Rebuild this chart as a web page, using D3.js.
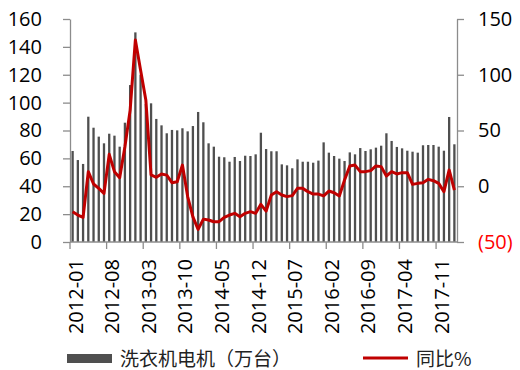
<!DOCTYPE html>
<meta charset="utf-8">
<script src="https://d3js.org/d3.v7.min.js"></script>
<style>
  body { margin: 0; background: #fff; }
  text { font-family: "Open Sans", "Liberation Sans", sans-serif; }
</style>
<div id="chart"></div>
<script>

// months on the x axis
var months = [
  "2012-01","2012-02","2012-03","2012-04","2012-05","2012-06","2012-07","2012-08","2012-09","2012-10","2012-11","2012-12",
  "2013-01","2013-02","2013-03","2013-04","2013-05","2013-06","2013-07","2013-08","2013-09","2013-10","2013-11","2013-12",
  "2014-01","2014-02","2014-03","2014-04","2014-05","2014-06","2014-07","2014-08","2014-09","2014-10","2014-11","2014-12",
  "2015-01","2015-02","2015-03","2015-04","2015-05","2015-06","2015-07","2015-08","2015-09","2015-10","2015-11","2015-12",
  "2016-01","2016-02","2016-03","2016-04","2016-05","2016-06","2016-07","2016-08","2016-09","2016-10","2016-11","2016-12",
  "2017-01","2017-02","2017-03","2017-04","2017-05","2017-06","2017-07","2017-08","2017-09","2017-10","2017-11","2017-12",
  "2018-01","2018-02"]

// 洗衣机电机 output (万台)
var output = [
  65.3, 58.8, 56.0, 89.9, 82.0, 75.6, 70.8, 77.7, 76.3, 68.4, 85.6, 112.6,
  150.4, 120.0, 99.0, 99.5, 88.3, 83.7, 78.0, 80.4, 80.1, 81.6, 79.4, 83.2,
  93.3, 85.9, 70.8, 68.4, 61.2, 60.8, 57.6, 61.0, 58.1, 61.9, 61.7, 62.9,
  78.4, 66.7, 65.1, 65.1, 55.7, 55.0, 52.9, 59.3, 57.6, 57.6, 56.9, 58.4,
  71.5, 64.1, 61.7, 59.8, 58.1, 64.3, 62.9, 67.4, 65.3, 66.5, 67.7, 69.1,
  78.0, 72.5, 68.2, 67.2, 65.5, 64.8, 64.1, 69.4, 69.6, 69.6, 68.4, 65.5,
  89.7, 70.1]

// 同比 % (year on year)
var yoy = [
  -22.8, -25.8, -27.9, 13.1, 2.0, -1.9, -6.4, 28.6, 13.1, 7.7, 35.5, 68.3,
  131.2, 104.0, 77.4, 10.1, 8.0, 11.0, 10.0, 3.2, 4.1, 19.0, -9.3, -27.4,
  -38.7, -29.5, -30.3, -31.8, -31.8, -27.9, -25.8, -24.3, -27.3, -24.3, -22.8, -24.3,
  -16.2, -22.3, -7.8, -4.9, -7.8, -9.3, -8.4, -1.9, -1.9, -4.9, -7.0, -7.0,
  -8.7, -4.3, -5.8, -8.7, 5.6, 18.2, 19.0, 13.1, 13.1, 14.0, 18.2, 17.6,
  9.2, 13.1, 11.0, 12.2, 12.2, 1.7, 2.6, 3.2, 6.2, 5.0, 2.6, -4.9,
  14.6, -3.4]

var xTickLabels = ["2012-01","2012-08","2013-03","2013-10","2014-05","2014-12",
                   "2015-07","2016-02","2016-09","2017-04","2017-11"]
var leftTicks = [0, 20, 40, 60, 80, 100, 120, 140, 160]
var rightTicks = [-50, 0, 50, 100, 150]

var barColor = "#4f4f4f",
    lineColor = "#c00000",
    axisColor = "#8c8c8c"

var width = 520, height = 370
var plotLeft = 70, plotRight = 457, plotTop = 19, plotBottom = 242

var svg = d3.select("#chart")
  .append("svg")
  .attr("width", width)
  .attr("height", height)

var x = d3.scaleBand()
  .domain(months)
  .range([plotLeft, plotRight])
  .paddingInner(0.56)
  .paddingOuter(0.28)

var step = x.step()

var yL = d3.scaleLinear().domain([0, 160]).range([plotBottom, plotTop])
var yR = d3.scaleLinear().domain([-50, 150]).range([plotBottom, plotTop])

// bars
svg.append("g")
  .selectAll("rect")
  .data(output)
  .enter()
  .append("rect")
    .attr("x", function(d, i){ return x(months[i]) })
    .attr("width", x.bandwidth())
    .attr("y", function(d){ return yL(d) })
    .attr("height", function(d){ return yL(0) - yL(d) })
    .style("fill", barColor)

// line
var line = d3.line()
  .x(function(d, i){ return x(months[i]) + x.bandwidth() / 2 })
  .y(function(d){ return yR(d) })

svg.append("path")
  .datum(yoy)
  .attr("d", line)
  .style("fill", "none")
  .style("stroke", lineColor)
  .style("stroke-width", 3)
  .style("stroke-linejoin", "round")

function styleAxis(g) {
  g.select(".domain").style("stroke", axisColor).style("stroke-width", 1.3)
  g.selectAll(".tick line").style("stroke", axisColor).style("stroke-width", 1.3)
  g.selectAll(".tick text").style("font-size", "20px").style("fill", "#000")
}

// left axis
var gL = svg.append("g")
  .attr("transform", "translate(" + plotLeft + ",0)")
  .call(d3.axisLeft(yL).tickValues(leftTicks).tickSize(7).tickPadding(21).tickSizeOuter(0))
styleAxis(gL)

// right axis
var gR = svg.append("g")
  .attr("transform", "translate(" + plotRight + ",0)")
  .call(d3.axisRight(yR).tickValues(rightTicks).tickSize(7).tickPadding(14).tickSizeOuter(0)
    .tickFormat(function(d){ return d < 0 ? "(" + (-d) + ")" : d }))
styleAxis(gR)
gR.selectAll(".tick text")
  .style("fill", function(d){ return d < 0 ? "#ff0000" : "#000" })

// bottom axis, ticks on category boundaries
var gX = svg.append("g")
  .attr("transform", "translate(0," + plotBottom + ")")
  .call(d3.axisBottom(x).tickValues(xTickLabels).tickSize(7).tickSizeOuter(0))
styleAxis(gX)
gX.select(".domain").attr("d", "M" + plotLeft + ",0H" + plotRight)
gX.selectAll(".tick line")
  .attr("transform", "translate(" + (-step / 2) + ",0)")
gX.selectAll(".tick text")
  .attr("transform", "rotate(-90)")
  .attr("text-anchor", "end")
  .attr("x", -17)
  .attr("y", 3)
  .attr("dy", "0.35em")

// legend
var legend = svg.append("g")
legend.append("rect")
  .attr("x", 67).attr("y", 354)
  .attr("width", 45).attr("height", 9)
  .style("fill", barColor)
legend.append("text")
  .attr("x", 120).attr("y", 357)
  .attr("dominant-baseline", "central")
  .style("font-family", "'Noto Sans CJK SC', sans-serif")
  .style("font-size", "19px")
  .style("fill", "#222")
  .text("洗衣机电机（万台）")
legend.append("line")
  .attr("x1", 363).attr("x2", 408)
  .attr("y1", 358).attr("y2", 358)
  .style("stroke", lineColor)
  .style("stroke-width", 3)
legend.append("text")
  .attr("x", 416).attr("y", 357)
  .attr("dominant-baseline", "central")
  .style("font-family", "'Noto Sans CJK SC', sans-serif")
  .style("font-size", "19px")
  .style("fill", "#222")
  .text("同比%")

</script>
